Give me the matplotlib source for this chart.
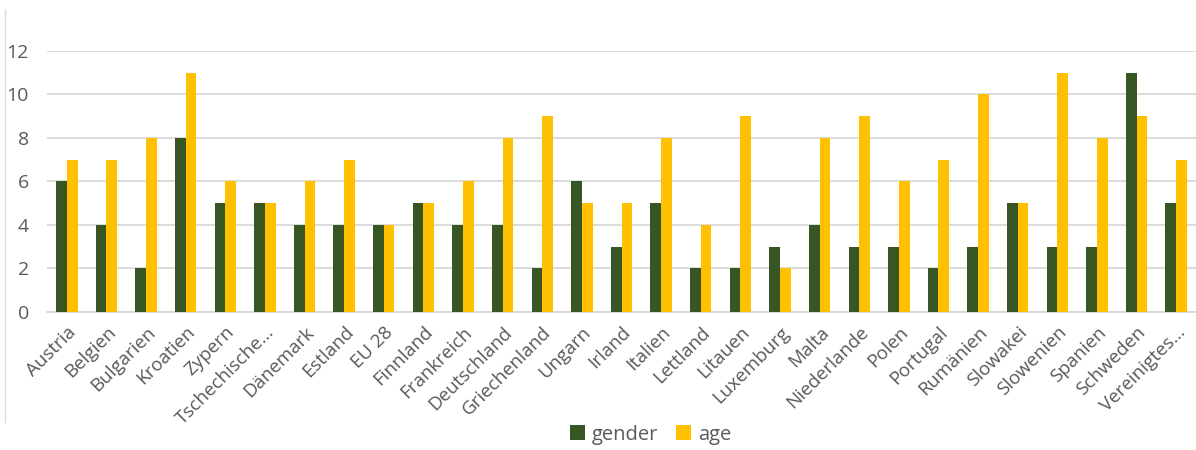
import matplotlib.pyplot as plt
import numpy as np
from matplotlib.lines import Line2D

# Categories and values
countries = ["Austria", "Belgien", "Bulgarien", "Kroatien", "Zypern", "Tschechische...",
             "Dänemark", "Estland", "EU 28", "Finnland", "Frankreich", "Deutschland",
             "Griechenland", "Ungarn", "Irland", "Italien", "Lettland", "Litauen",
             "Luxemburg", "Malta", "Niederlande", "Polen", "Portugal", "Rumänien",
             "Slowakei", "Slowenien", "Spanien", "Schweden", "Vereinigtes..."]
gender = [6, 4, 2, 8, 5, 5, 4, 4, 4, 5, 4, 4, 2, 6, 3, 5, 2, 2, 3, 4, 3, 3, 2, 3, 5, 3, 3, 11, 5]
age = [7, 7, 8, 11, 6, 5, 6, 7, 4, 5, 6, 8, 9, 5, 5, 8, 4, 9, 2, 8, 9, 6, 7, 10, 5, 11, 8, 9, 7]

plt.rcParams['font.family'] = ['Open Sans', 'DejaVu Sans']
text_color = '#595959'
grid_color = '#d9d9d9'

fig = plt.figure(figsize=(11.96, 4.5), dpi=100)
ax = fig.add_axes([0.0393, 0.3067, 0.9607, 0.58])

x = np.arange(len(countries))
w = 0.27
ax.bar(x - w / 2, gender, width=w, color='#375623', label='gender', zorder=3)
ax.bar(x + w / 2, age, width=w, color='#FFC000', label='age', zorder=3)

ax.set_xlim(-0.5, len(countries) - 0.5)
ax.set_ylim(0, 12)
ax.set_yticks(range(0, 13, 2))
ax.yaxis.grid(True, color=grid_color, linewidth=1.3, zorder=0)
ax.set_axisbelow(True)
for s in ['top', 'right', 'left']:
    ax.spines[s].set_visible(False)
ax.spines['bottom'].set_color(grid_color)
ax.spines['bottom'].set_linewidth(1.3)

ax.set_xticks(x)
ax.set_xticklabels(countries, rotation=45, ha='right', rotation_mode='anchor',
                   fontsize=13.5, color=text_color)
ax.tick_params(axis='x', length=0, pad=8)
ax.tick_params(axis='y', length=0, pad=13, labelsize=14, labelcolor=text_color)

fig.legend(loc='center', bbox_to_anchor=(0.544, 0.034), ncol=2, frameon=False,
           fontsize=14.5, labelcolor=text_color, handlelength=0.75, handleheight=0.75,
           columnspacing=0.9, handletextpad=0.35)

# left border of the chart frame
fig.add_artist(Line2D([5 / 1196, 5 / 1196], [1 - 10 / 450, 1 - 422 / 450],
                      color=grid_color, linewidth=1))

fig.savefig('out.png', dpi=100)
